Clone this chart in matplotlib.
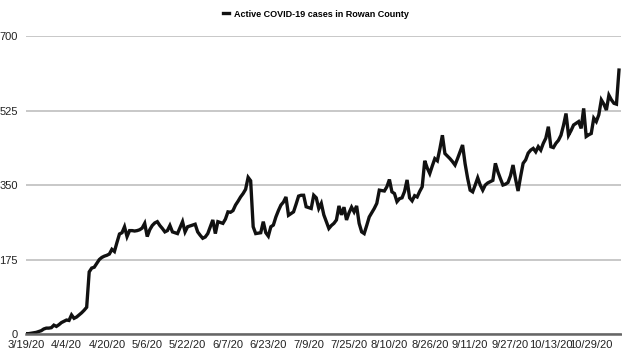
import matplotlib
matplotlib.use("Agg")
import matplotlib.pyplot as plt
import pandas as pd

plt.rcParams['font.family'] = ['Liberation Sans', 'DejaVu Sans']

# Daily active cases (3/19/20 onward)
active_cases = [
    1, 1, 2, 3, 4, 6, 8, 12, 14, 14,
    15, 21, 18, 22, 27, 30, 33, 32, 45, 37,
    40, 45, 50, 56, 63, 146, 155, 157, 166, 175,
    180, 183, 185, 188, 199, 194, 215, 235, 238, 252,
    229, 243, 243, 242, 243, 245, 249, 260, 229, 245,
    255, 261, 264, 255, 248, 240, 243, 255, 240, 238,
    236, 250, 264, 240, 252, 254, 256, 258, 240, 232,
    225, 228, 236, 252, 268, 236, 264, 262, 260, 270,
    287, 286, 290, 303, 312, 322, 330, 340, 368, 360,
    252, 236, 237, 238, 264, 238, 230, 252, 256, 275,
    290, 303, 310, 322, 279, 283, 287, 305, 324, 326,
    326, 299, 297, 295, 326, 320, 295, 307, 280, 264,
    248, 255, 260, 268, 301, 280, 298, 268, 285, 298,
    287, 301, 260, 240, 236, 255, 275, 285, 295, 307,
    338, 337, 336, 346, 363, 334, 330, 311, 318, 320,
    335, 362, 320, 313, 325, 322, 335, 346, 407, 390,
    377, 395, 412, 407, 435, 467, 424, 418, 412, 405,
    397, 412, 428, 444, 400, 366, 338, 334, 350, 367,
    350, 338, 350, 355, 358, 361, 401, 381, 365, 350,
    352, 356, 372, 397, 364, 336, 370, 401, 409, 425,
    432, 436, 428, 440, 432, 448, 460, 487, 440, 438,
    448, 455, 467, 490, 518, 467, 478, 491, 495, 499,
    483, 530, 464, 468, 471, 507, 499, 515, 550, 540,
    526, 561, 550, 542, 540, 620,
]
dates = pd.date_range("2020-03-19", periods=len(active_cases), freq="D")

tick_dates = pd.date_range("2020-03-19", "2020-10-29", freq="16D")
tick_labels = [f"{d.month}/{d.day}/{d.year % 100}" for d in tick_dates]
y_ticks = [0, 175, 350, 525, 700]

fig = plt.figure(figsize=(6.22, 3.6), dpi=100)
ax = fig.add_axes([0.042, 0.072, 0.956, 0.828])

line, = ax.plot(dates, active_cases, color="#111111", linewidth=2.4,
                solid_joinstyle="miter", label="Active COVID-19 cases in Rowan County")

ax.set_ylim(0, 700)
ax.set_xlim(dates[0], dates[0] + pd.Timedelta(days=235.7))
ax.set_yticks(y_ticks)
ax.set_yticklabels([str(v) for v in y_ticks])
ax.set_xticks(tick_dates)
ax.set_xticklabels(tick_labels)

ax.grid(axis="y", color="#c4c4c4", linewidth=1.3)
ax.set_axisbelow(True)
for side in ["left", "right", "top"]:
    ax.spines[side].set_visible(False)
ax.spines["bottom"].set_color("#666666")
ax.spines["bottom"].set_linewidth(1.8)
ax.tick_params(axis="both", length=0, labelsize=8, colors="#222222")
ax.tick_params(axis="y", pad=6)
ax.tick_params(axis="x", pad=4)

fig.legend(handles=[line], loc="center", bbox_to_anchor=(0.508, 0.961),
           frameon=False, handlelength=0.7, handletextpad=0.6,
           prop={"weight": "bold", "size": 6.5})

fig.savefig("out.png", dpi=100)
